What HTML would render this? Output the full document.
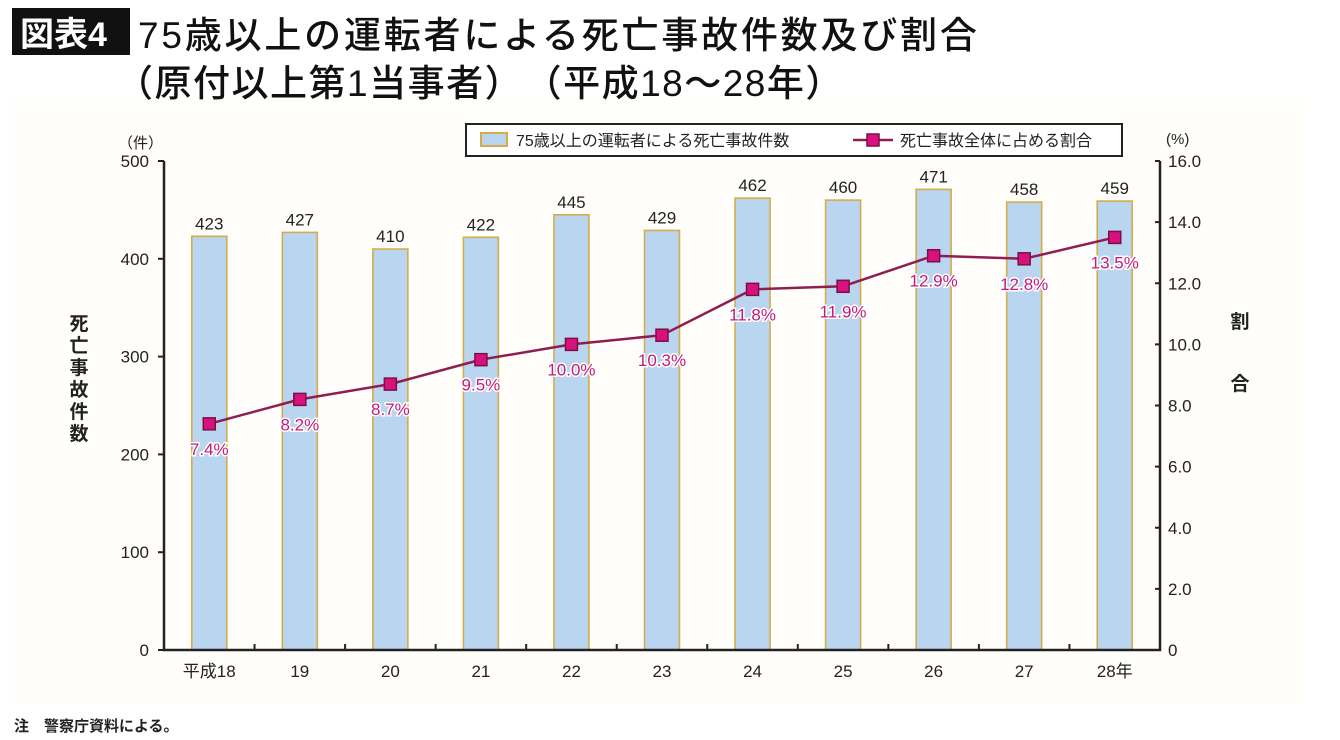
<!DOCTYPE html>
<html><head><meta charset="utf-8"><style>
body{margin:0;width:1340px;height:740px;background:#fff;overflow:hidden;font-family:"Liberation Sans","Noto Sans CJK JP",sans-serif;}
.t{position:absolute;white-space:nowrap;color:#111;}
</style></head><body>
<div style="position:absolute;left:12px;top:8px;width:118px;height:47px;background:#111;"></div>
<div class="t" style="left:20px;top:7px;font-size:34px;color:#fff;font-weight:bold;">図表4</div>
<div class="t" style="left:138px;top:5px;font-size:37px;font-weight:500;letter-spacing:2.8px;">75歳以上の運転者による死亡事故件数及び割合</div>
<div class="t" style="left:116px;top:53px;font-size:37px;font-weight:500;letter-spacing:1.5px;">（原付以上第1当事者）　（平成18〜28年）</div>
<svg id="c" width="1340" height="740" style="position:absolute;left:0;top:0;top:0" font-family="Liberation Sans, Noto Sans CJK JP, sans-serif"></svg>
<script>
const categories=["平成18","19","20","21","22","23","24","25","26","27","28年"];
const counts=[423,427,410,422,445,429,462,460,471,458,459];
const ratios=[7.4,8.2,8.7,9.5,10.0,10.3,11.8,11.9,12.9,12.8,13.5];
const leftTicks=[0,100,200,300,400,500];
const rightTicks=[0,2,4,6,8,10,12,14,16];
const svg=document.getElementById('c');const NS='http://www.w3.org/2000/svg';
function mk(t,a,p){const e=document.createElementNS(NS,t);for(const k in a)e.setAttribute(k,a[k]);(p||svg).appendChild(e);return e;}
const X0=164,X1=1160,Y0=650,Y1=161;
const bw=(X1-X0)/categories.length;
const xC=i=>X0+bw*(i+0.5);
const yL=v=>Y0-(v/500)*(Y0-Y1);
const yR=v=>Y0-(v/16)*(Y0-Y1);
let e;
e=mk('rect',{x:12,y:100,width:1293,height:605,fill:'#fffefa'});


counts.forEach((v,i)=>{
 e=mk('rect',{x:xC(i)-17.5,y:yL(v),width:35,height:Y0-yL(v),fill:'#b9d5f0',stroke:'#d6ac4a','stroke-width':1.6});
 
 
 e=mk('text',{x:xC(i),y:yL(v)-7,'text-anchor':'middle','font-size':17,fill:'#222'});e.textContent=v;
 
 
});
e=mk('path',{d:`M${X0} ${Y1}V${Y0}H${X1}V${Y1}`,fill:'none',stroke:'#222','stroke-width':2.5});


leftTicks.forEach(v=>{
 mk('line',{x1:X0-6,x2:X0,y1:yL(v),y2:yL(v),stroke:'#222','stroke-width':2});
 e=mk('text',{x:X0-15,y:yL(v)+6,'text-anchor':'end','font-size':17,fill:'#222'});e.textContent=v;
 
 
});
rightTicks.forEach(v=>{
 mk('line',{x1:X1-5,x2:X1,y1:yR(v),y2:yR(v),stroke:'#222','stroke-width':2});
 e=mk('text',{x:X1+8,y:yR(v)+6,'font-size':17,fill:'#222'});e.textContent=v===0?'0':v.toFixed(1);
 
 
});
categories.forEach((c,i)=>{
 if(i>0)mk('line',{x1:X0+bw*i,x2:X0+bw*i,y1:Y0,y2:Y0-6,stroke:'#222','stroke-width':2});
 e=mk('text',{x:xC(i),y:Y0+27,'text-anchor':'middle','font-size':17,fill:'#222'});e.textContent=c;
 
 
});
e=mk('polyline',{points:ratios.map((v,i)=>xC(i)+','+yR(v)).join(' '),fill:'none',stroke:'#8e1d50','stroke-width':2.5});


ratios.forEach((v,i)=>{
 e=mk('rect',{x:xC(i)-6,y:yR(v)-6,width:12,height:12,fill:'#d8117f',stroke:'#7a1040','stroke-width':1.5});
 
 
 e=mk('text',{x:xC(i),y:yR(v)+31,'text-anchor':'middle','font-size':17,fill:'#c41a78',stroke:'#fff','stroke-width':3,'paint-order':'stroke'});e.textContent=v.toFixed(1)+'%';
 
 
});
e=mk('rect',{x:466,y:124,width:656,height:32,fill:'#fff',stroke:'#222','stroke-width':2});


mk('rect',{x:481,y:133,width:26,height:13,fill:'#b9d5f0',stroke:'#d6ac4a','stroke-width':2});
e=mk('text',{x:516,y:146,'font-size':16,fill:'#222'});e.textContent='75歳以上の運転者による死亡事故件数';


mk('line',{x1:853,x2:893,y1:140,y2:140,stroke:'#8e1d50','stroke-width':2.5});
mk('rect',{x:867,y:134,width:12,height:12,fill:'#d8117f',stroke:'#7a1040','stroke-width':1.5});
e=mk('text',{x:900,y:146,'font-size':16,fill:'#222'});e.textContent='死亡事故全体に占める割合';


e=mk('text',{x:118,y:148,'font-size':15,fill:'#222'});e.textContent='（件）';


e=mk('text',{x:1166,y:144,'font-size':15,fill:'#222'});e.textContent='(%)';


e=mk('text',{x:79,y:330,'font-size':19,'font-weight':'bold',fill:'#222','text-anchor':'middle'});


['死','亡','事','故','件','数'].forEach((ch,i)=>{const s=mk('tspan',{x:79,dy:i?22:0},e);s.textContent=ch;});
e=mk('text',{x:1240,y:328,'font-size':19,'font-weight':'bold',fill:'#222','text-anchor':'middle'});


['割','合'].forEach((ch,i)=>{const s=mk('tspan',{x:1240,dy:i?62:0},e);s.textContent=ch;});
e=mk('text',{x:14,y:731,'font-size':15,'font-weight':'bold',fill:'#222'});e.textContent='注　警察庁資料による。';


</script>
</body></html>
